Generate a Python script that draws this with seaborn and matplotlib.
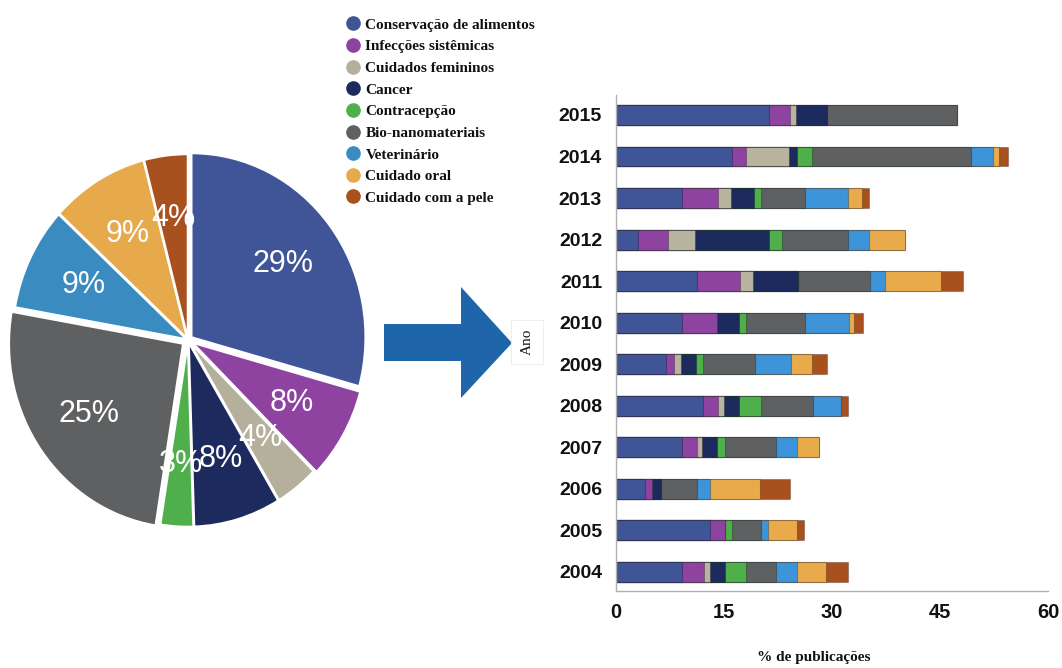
import numpy as np
import pandas as pd
import matplotlib
matplotlib.use('Agg')
import matplotlib.pyplot as plt
import seaborn as sns
from matplotlib.lines import Line2D
from matplotlib.patches import Polygon

# ---------------- data ----------------
categories = ['Conservação de alimentos', 'Infecções sistêmicas', 'Cuidados femininos',
              'Cancer', 'Contracepção', 'Bio-nanomateriais', 'Veterinário',
              'Cuidado oral', 'Cuidado com a pele']
pie_values = [29, 8, 4, 8, 3, 25, 9, 9, 4]

years = ['2015', '2014', '2013', '2012', '2011', '2010',
         '2009', '2008', '2007', '2006', '2005', '2004']
food   = [21.2, 16.1, 9.2, 3.0, 11.2, 9.2, 7.0, 12.1, 9.2, 4.0, 13.1, 9.2]
infec  = [3.0, 2.0, 5.0, 4.2, 6.0, 4.8, 1.1, 2.0, 2.1, 1.0, 2.1, 3.0]
fem    = [0.8, 5.9, 1.8, 3.8, 1.8, 0.0, 0.9, 0.9, 0.7, 0.0, 0.0, 0.8]
cancer = [4.3, 1.1, 3.1, 10.2, 6.3, 3.1, 2.1, 2.1, 2.0, 1.2, 0.0, 2.2]
contra = [0.0, 2.1, 1.0, 1.9, 0.0, 1.0, 1.0, 3.0, 1.2, 0.0, 0.9, 2.9]
bio    = [18.0, 22.1, 6.1, 9.1, 10.0, 8.1, 7.2, 7.2, 7.0, 5.1, 4.0, 4.1]
vet    = [0.0, 3.0, 6.0, 3.0, 2.0, 6.1, 5.0, 3.9, 3.0, 1.8, 1.0, 3.0]
oral   = [0.0, 0.9, 1.9, 5.0, 7.9, 0.8, 2.9, 0.0, 3.0, 6.9, 4.0, 4.0]
skin   = [0.0, 1.2, 1.1, 0.0, 3.0, 1.2, 2.1, 1.0, 0.0, 4.2, 1.0, 3.0]
series = [food, infec, fem, cancer, contra, bio, vet, oral, skin]

x_ticks = [0, 15, 30, 45, 60]

bar_colors = ['#3F5597', '#8E43A0', '#B9B4A0', '#1D2A5E', '#4FB04B',
              '#5F6061', '#3D94D8', '#E8AA4B', '#A9501F']
pie_colors = ['#3F5597', '#8E43A0', '#B5B09C', '#1D2A5E', '#4FB04B',
              '#5F6061', '#3A8CC0', '#E6AA4C', '#A9501F']

# ---------------- style ----------------
sns.set_theme(style='white')
plt.rcParams['font.family'] = ['Liberation Sans', 'DejaVu Sans']

W, H = 1062, 668
fig = plt.figure(figsize=(W / 100, H / 100), dpi=100)

def fx(px):
    return px / W

def fy(py):
    return 1 - py / H

# ---------------- pie ----------------
cx, cy, rx, ry = 188, 340, 174, 184
axp = fig.add_axes([fx(cx - 1.1 * rx), fy(cy + 1.1 * ry), 2.2 * rx / W, 2.2 * ry / H])
explode = [0.025, 0.03, 0.015, 0.015, 0.015, 0.035, 0.01, 0.01, 0.01]
wedges, texts, autotexts = axp.pie(
    pie_values, colors=pie_colors, startangle=90, counterclock=False,
    explode=explode, autopct='%1.0f%%', pctdistance=0.66,
    wedgeprops=dict(edgecolor='white', linewidth=1.5),
    textprops=dict(color='white', fontsize=22, family='Liberation Sans'))
axp.set_aspect('auto')
axp.set_xlim(-1.1, 1.1)
axp.set_ylim(-1.1, 1.1)
axp.axis('off')

# ---------------- arrow ----------------
arrow_px = [(384, 324), (461, 324), (461, 287), (512, 343),
            (461, 398), (461, 361), (384, 361)]
fig.patches.append(Polygon([(fx(x), fy(y)) for x, y in arrow_px], closed=True,
                           transform=fig.transFigure, facecolor='#1E66A9',
                           edgecolor='none'))

# ---------------- stacked bars ----------------
axb = fig.add_axes([fx(616), fy(591), (1048 - 616) / W, (591 - 95) / H])
cum = np.cumsum(np.array(series), axis=0)
for k in range(len(series) - 1, -1, -1):
    df = pd.DataFrame({'year': years, 'value': cum[k]})
    sns.barplot(data=df, x='value', y='year', order=years, orient='y',
                color=bar_colors[k], saturation=1, width=0.48, ax=axb,
                edgecolor=(0, 0, 0, 0.25), linewidth=0.8)
axb.set_xlim(0, 60)
axb.set_ylim(len(years) - 1 + 0.46, -0.48)
axb.set_xticks(x_ticks)
axb.set_xticklabels([str(t) for t in x_ticks])
axb.set_xlabel('')
axb.set_ylabel('')
axb.tick_params(axis='y', length=0, pad=10, labelsize=14)
axb.tick_params(axis='x', length=0, pad=9, labelsize=14.5)
for lab in axb.get_xticklabels() + axb.get_yticklabels():
    lab.set_fontweight('bold')
    lab.set_color('#111111')
for s in ['top', 'right']:
    axb.spines[s].set_visible(False)
for s in ['left', 'bottom']:
    axb.spines[s].set_color('#b0b0b0')
    axb.spines[s].set_linewidth(1.0)

# axis titles
fig.text(fx(527), fy(342), 'Ano', rotation=90, ha='center', va='center',
         family='Liberation Serif', fontsize=11, color='#111111',
         bbox=dict(boxstyle='square,pad=0.6', facecolor='white', edgecolor='#eeeeee', linewidth=0.8))
fig.text(fx(814), fy(658), '% de publicações', ha='center', va='center',
         family='Liberation Serif', fontsize=11, fontweight='bold', color='#111111')

# ---------------- legend ----------------
handles = [Line2D([], [], marker='o', linestyle='', markersize=9.5,
                  markerfacecolor=c, markeredgecolor=c) for c in pie_colors]
leg = fig.legend(handles, categories, loc='upper left',
                 bbox_to_anchor=(fx(347), fy(18)), frameon=False, borderpad=0,
                 borderaxespad=0, handlelength=0.8, handletextpad=0.4,
                 labelspacing=0.52,
                 prop=dict(family='Liberation Serif', size=11, weight='bold'))
for t in leg.get_texts():
    t.set_color('#111111')

fig.savefig('out.png', dpi=100)
